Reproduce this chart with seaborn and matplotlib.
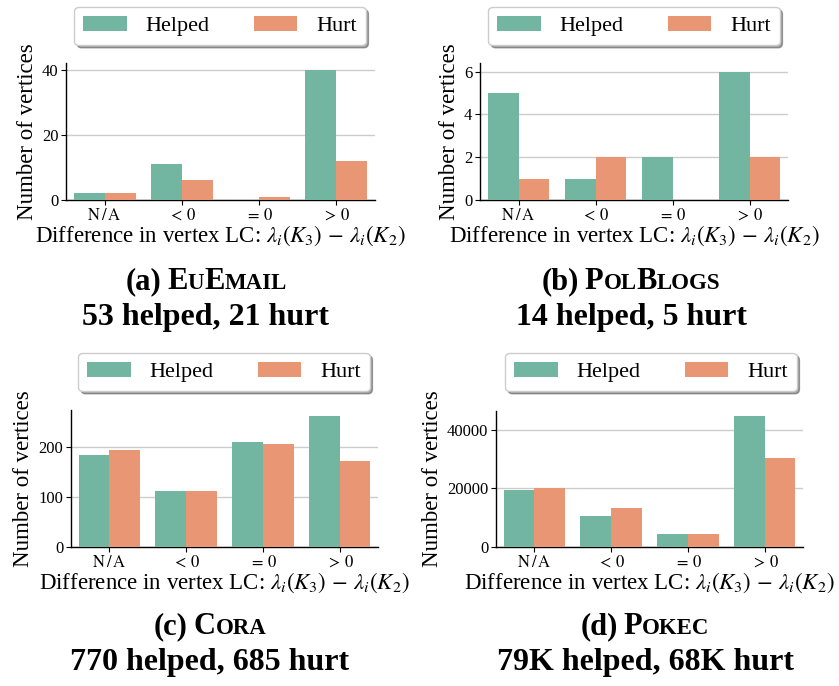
import matplotlib
matplotlib.use("Agg")
import matplotlib.pyplot as plt
import seaborn as sns
import pandas as pd

categories = [r"$\mathrm{N\,/\,A}$", r"$<\,0$", r"$=\,0$", r"$>\,0$"]
series_names = ["Helped", "Hurt"]

euemail_helped = [2, 11, 0, 40]
euemail_hurt = [2, 6, 1, 12]
polblogs_helped = [5, 1, 2, 6]
polblogs_hurt = [1, 2, 0, 2]
cora_helped = [184, 112, 211, 263]
cora_hurt = [195, 112, 206, 172]
pokec_helped = [19300, 10500, 4300, 44500]
pokec_hurt = [20000, 13200, 4300, 30200]

ylims = [42, 6.4, 275, 46300]
yticks = [[0, 20, 40], [0, 2, 4, 6], [0, 100, 200], [0, 20000, 40000]]

caption_letters = ["(a)", "(b)", "(c)", "(d)"]
caption_names = [[("E", 1), ("U", 0), ("E", 1), ("MAIL", 0)],
                 [("P", 1), ("OL", 0), ("B", 1), ("LOGS", 0)],
                 [("C", 1), ("ORA", 0)],
                 [("P", 1), ("OKEC", 0)]]
caption_counts = ["53 helped, 21 hurt", "14 helped, 5 hurt",
                  "770 helped, 685 hurt", "79K helped, 68K hurt"]

panels = [(euemail_helped, euemail_hurt), (polblogs_helped, polblogs_hurt),
          (cora_helped, cora_hurt), (pokec_helped, pokec_hurt)]

sns.set_theme(style="ticks")
plt.rcParams["font.family"] = ["Liberation Serif", "DejaVu Serif"]
plt.rcParams["mathtext.fontset"] = "stix"
for key in ["text.color", "axes.labelcolor", "xtick.color", "ytick.color"]:
    plt.rcParams[key] = "black"

W, H = 839, 686
fig = plt.figure(figsize=(W / 100, H / 100), dpi=100)

# axes boxes in pixels: left, top, right, bottom
boxes = [(66, 63, 375, 200), (480, 63, 788, 200),
         (71, 410, 378, 547), (496, 411, 803, 547)]
legend_centers = [(220, 26), (634, 26), (224, 372), (651, 372)]
caption_x = [206, 631, 210, 645]
caption_y = [[289, 325], [289, 325], [634, 670], [634, 670]]

xlabel = r"Difference in vertex LC: $\lambda_i(K_3)\,-\,\lambda_i(K_2)$"

for i, (helped, hurt) in enumerate(panels):
    l, t, r, b = boxes[i]
    ax = fig.add_axes([l / W, (H - b) / H, (r - l) / W, (b - t) / H])
    df = pd.DataFrame({
        "diff": categories * 2,
        "count": list(helped) + list(hurt),
        "type": [series_names[0]] * 4 + [series_names[1]] * 4,
    })
    sns.barplot(data=df, x="diff", y="count", hue="type", palette="Set2",
                ax=ax, width=0.8, linewidth=0, zorder=3)
    ax.set_ylim(0, ylims[i])
    ax.set_yticks(yticks[i])
    ax.yaxis.grid(True, color="#cccccc", linewidth=1.0, zorder=0)
    ax.set_axisbelow(True)
    sns.despine(ax=ax)
    for s in ["left", "bottom"]:
        ax.spines[s].set_color("black")
        ax.spines[s].set_linewidth(1.0)
    ax.tick_params(axis="x", labelsize=12, length=3.5, width=0.8, color="black",
                   labelcolor="black", pad=2)
    ax.tick_params(axis="y", labelsize=12, length=3.5, width=0.8, color="black",
                   labelcolor="black", pad=2)
    ax.set_xlabel(xlabel, fontsize=16.5, labelpad=0, color="black")
    ax.set_ylabel("Number of vertices", fontsize=16.5, labelpad=3, color="black")
    cx, cy = legend_centers[i]
    leg = ax.legend(loc="center", bbox_to_anchor=(cx / W, (H - cy) / H),
                    bbox_transform=fig.transFigure, ncol=2, fontsize=16,
                    frameon=True, shadow=True, fancybox=True,
                    handlelength=1.95, handleheight=0.65, columnspacing=2.0,
                    handletextpad=0.85, borderpad=0.4)
    leg.get_frame().set_edgecolor("#cccccc")
    leg.get_frame().set_linewidth(1.0)
    for t in leg.get_texts():
        t.set_color("black")

renderer = fig.canvas.get_renderer()

def draw_line(pieces, xc, ypix):
    texts = []
    total = 0
    for s, size, gap in pieces:
        tx = fig.text(0, (H - ypix) / H, s, fontsize=size, fontweight="bold",
                      ha="left", va="baseline", color="black")
        w = tx.get_window_extent(renderer).width + gap
        texts.append((tx, w))
        total += w
    x = xc - total / 2
    for tx, w in texts:
        tx.set_x(x / W)
        x += w

BIG, SMALL = 22, 16.5
for i in range(4):
    pieces = [(caption_letters[i], BIG, 6)]
    pieces += [(s, BIG if big else SMALL, 0) for s, big in caption_names[i]]
    draw_line(pieces, caption_x[i], caption_y[i][0])
    draw_line([(caption_counts[i], 23, 0)], caption_x[i], caption_y[i][1])

fig.savefig("out.png", dpi=100)
